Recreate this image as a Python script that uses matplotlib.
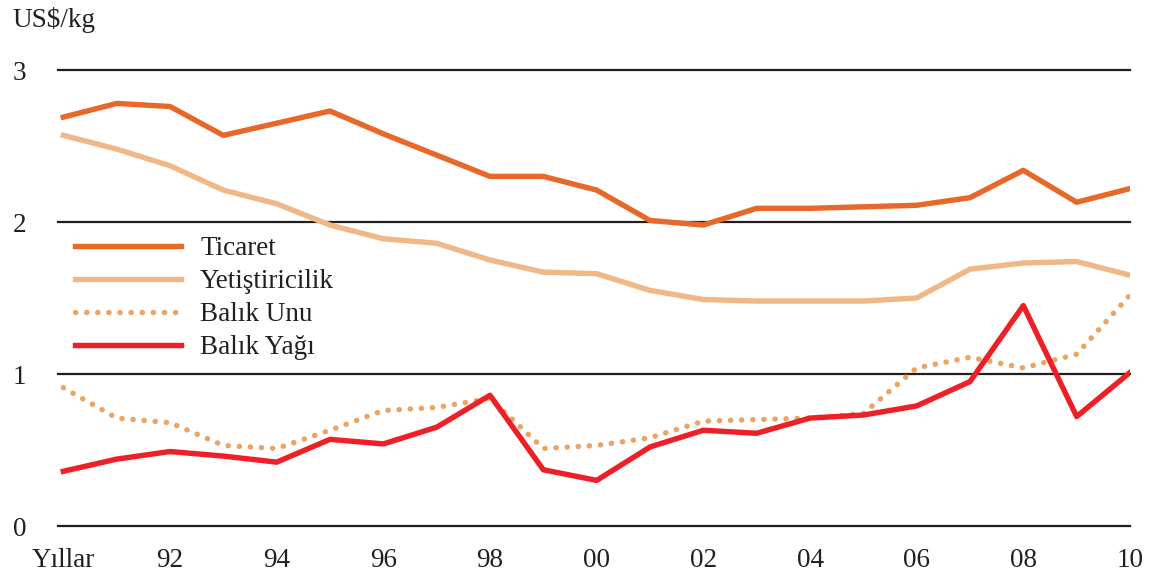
import matplotlib.pyplot as plt

plt.rcParams['font.family'] = ['Liberation Serif', 'DejaVu Serif']

years = list(range(1990, 2011))
ticaret = [2.69, 2.78, 2.76, 2.57, 2.65, 2.73, 2.58, 2.44, 2.30, 2.30, 2.21,
           2.01, 1.98, 2.09, 2.09, 2.10, 2.11, 2.16, 2.34, 2.13, 2.22]
yetistiricilik = [2.57, 2.48, 2.37, 2.21, 2.12, 1.98, 1.89, 1.86, 1.75, 1.67, 1.66,
                  1.55, 1.49, 1.48, 1.48, 1.48, 1.50, 1.69, 1.73, 1.74, 1.65]
balik_unu = [0.91, 0.71, 0.68, 0.53, 0.51, 0.63, 0.76, 0.78, 0.84, 0.51, 0.53,
             0.58, 0.69, 0.70, 0.71, 0.74, 1.04, 1.11, 1.04, 1.13, 1.52]
balik_yagi = [0.36, 0.44, 0.49, 0.46, 0.42, 0.57, 0.54, 0.65, 0.86, 0.37, 0.30,
              0.52, 0.63, 0.61, 0.71, 0.73, 0.79, 0.95, 1.45, 0.72, 1.01]

xticks = [1990, 1992, 1994, 1996, 1998, 2000, 2002, 2004, 2006, 2008, 2010]
xlabels = ['Yıllar', '92', '94', '96', '98', '00', '02', '04', '06', '08', '10']

W, H = 1154, 575
fs = 19.5
txt = '#231F20'
fig = plt.figure(figsize=(W / 100, H / 100), dpi=100)
ax = fig.add_axes([58 / W, (H - 526) / H, (1130 - 58) / W, (526 - 70) / H])

for yv in [0, 1, 2, 3]:
    ax.axhline(yv, color=txt, lw=1.6, clip_on=False, zorder=1)

lw = 3.9
ax.plot(years, ticaret, color='#E8682A', lw=lw, label='Ticaret', zorder=3)
ax.plot(years, yetistiricilik, color='#F0B886', lw=lw, label='Yetiştiricilik', zorder=3)
ax.plot(years, balik_unu, color='#E9A466', lw=lw, linestyle=(0, (0.05, 2.0)),
        dash_capstyle='round', label='Balık Unu', zorder=3)
ax.plot(years, balik_yagi, color='#EE2027', lw=lw, label='Balık Yağı', zorder=4)

ax.set_xlim(1989.9, 2010.0)
ax.set_ylim(0, 3)
for s in ax.spines.values():
    s.set_visible(False)

ax.set_yticks([0, 1, 2, 3])
ax.set_yticklabels(['0', '1', '2', '3'], fontsize=fs, color=txt)
ax.set_xticks(xticks)
ax.set_xticklabels(xlabels, fontsize=fs, color=txt)
ax.tick_params(axis='y', length=0, pad=23)
ax.tick_params(axis='x', length=0, pad=16)

fig.text(12 / W, 1 - 20 / H, 'US$/kg', fontsize=fs, color=txt, va='center', ha='left')

leg = ax.legend(loc='upper left', bbox_to_anchor=(75 / W, 1 - 236 / H),
                bbox_transform=fig.transFigure, frameon=False, fontsize=fs,
                handlelength=3.9, handletextpad=0.72, labelspacing=0.3,
                borderaxespad=0, borderpad=0)
for t in leg.get_texts():
    t.set_color(txt)

plt.savefig('out.png', dpi=100)
